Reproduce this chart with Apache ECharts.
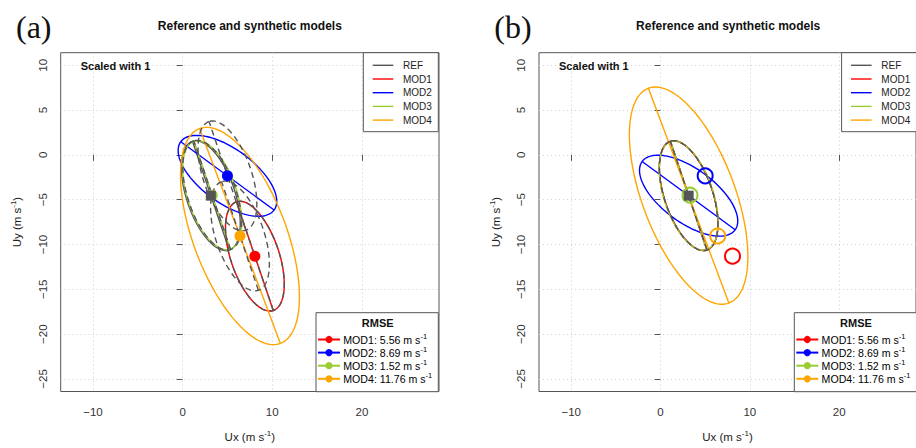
<!DOCTYPE html>
<html>
<head>
<meta charset="utf-8">
<script src="https://cdn.jsdelivr.net/npm/echarts@6/dist/echarts.min.js"></script>
<style>
  html, body { margin: 0; background: #fff; }
  #main { width: 916px; height: 448px; }
</style>
</head>
<body>
<div id="main"></div>
<script>
// wind vector models: mean vector + variance ellipse (semi-axes, angle of major axis)
const models = ['REF', 'MOD1', 'MOD2', 'MOD3', 'MOD4'];
const colors = ['#555555', '#ff0000', '#0000ff', '#9acd32', '#ffa500'];
const meanUx = [3.15, 8.06, 5.0, 3.3, 6.4];
const meanUy = [-4.55, -11.3, -2.34, -4.5, -9.05];
const semiMajor = [6.4, 6.4, 6.45, 6.35, 12.8];
const semiMinor = [2.7, 2.7, 3.0, 2.75, 5.2];
const angleDeg = [108.7, 108.7, -36.2, 108.5, -69.4];
const rmse = ['', '5.56', '8.69', '1.52', '11.76'];
const xTicks = [-10, 0, 10, 20];
const yTicks = [10, 5, 0, -5, -10, -15, -20, -25];
const xRange = [-13.6, 28.6];
const yRange = [-26.4, 11.4];
const panelLabels = ['(a)', '(b)'];

const FONT = "'Liberation Sans', Arial, Helvetica, sans-serif";
const L = [60.7, 539];
const T = 52.7, W = 378.3, H = 339;

var myChart = echarts.init(document.getElementById('main'), null, { renderer: 'svg' });

function minus(v) {
  return v < 0 ? '\u2212' + Math.abs(v) : String(v);
}

// one ellipse outline + its major axis, from a row [cx, cy, a, b, angle]
function ellipseSeries(p, rows, color, dashed) {
  return {
    type: 'custom',
    xAxisIndex: p,
    yAxisIndex: p,
    silent: true,
    data: rows,
    renderItem: function (params, api) {
      const cx = api.value(0), cy = api.value(1);
      const a = api.value(2), b = api.value(3);
      const ang = api.value(4) * Math.PI / 180;
      const ux = Math.cos(ang), uy = Math.sin(ang);
      const pts = [];
      for (let k = 0; k <= 144; k++) {
        const t = k / 144 * 2 * Math.PI;
        pts.push(api.coord([
          cx + a * Math.cos(t) * ux - b * Math.sin(t) * uy,
          cy + a * Math.cos(t) * uy + b * Math.sin(t) * ux
        ]));
      }
      const p1 = api.coord([cx - a * ux, cy - a * uy]);
      const p2 = api.coord([cx + a * ux, cy + a * uy]);
      const st = { stroke: color, lineWidth: 1.4, fill: null, lineDash: dashed ? [6, 4] : null };
      return {
        type: 'group',
        children: [
          { type: 'polyline', shape: { points: pts }, style: st },
          { type: 'line', shape: { x1: p1[0], y1: p1[1], x2: p2[0], y2: p2[1] }, style: st }
        ]
      };
    }
  };
}

function shapeRow(i, cx, cy) {
  return [cx, cy, semiMajor[i], semiMinor[i], angleDeg[i]];
}

const series = [];
// panel (a): ellipses at each model's own mean
series.push(ellipseSeries(0, [shapeRow(0, meanUx[0], meanUy[0])], colors[0], false));
for (let i = 1; i < models.length; i++) {
  series.push(ellipseSeries(0, [shapeRow(i, meanUx[i], meanUy[i])], colors[i], false));
}
series.push(ellipseSeries(0, [1, 2, 3, 4].map(i => shapeRow(0, meanUx[i], meanUy[i])), colors[0], true));
for (let i = 1; i < models.length; i++) {
  series.push({
    type: 'scatter', xAxisIndex: 0, yAxisIndex: 0, silent: true,
    symbol: 'circle', symbolSize: 11,
    itemStyle: { color: colors[i], opacity: 1 },
    data: [[meanUx[i], meanUy[i]]]
  });
}
series.push({
  type: 'scatter', xAxisIndex: 0, yAxisIndex: 0, silent: true,
  symbol: 'rect', symbolSize: 10,
  itemStyle: { color: colors[0], opacity: 1 },
  data: [[meanUx[0], meanUy[0]]]
});

// panel (b): all ellipses moved to the REF mean
for (let i = 0; i < models.length; i++) {
  series.push(ellipseSeries(1, [shapeRow(i, meanUx[0], meanUy[0])], colors[i], false));
}
series.push(ellipseSeries(1, [shapeRow(0, meanUx[0], meanUy[0])], colors[0], true));
for (let i = 1; i < models.length; i++) {
  series.push({
    type: 'scatter', xAxisIndex: 1, yAxisIndex: 1, silent: true,
    symbol: 'circle', symbolSize: 15,
    itemStyle: { color: 'rgba(0,0,0,0)', borderColor: colors[i], borderWidth: 2, opacity: 1 },
    data: [[meanUx[i], meanUy[i]]]
  });
}
series.push({
  type: 'scatter', xAxisIndex: 1, yAxisIndex: 1, silent: true,
  symbol: 'rect', symbolSize: 10,
  itemStyle: { color: colors[0], opacity: 1 },
  data: [[meanUx[0], meanUy[0]]]
});

const axisRich = {
  m: { fontSize: 11.5, fontFamily: FONT, color: '#222', lineHeight: 15 },
  s: { fontSize: 8, fontFamily: FONT, color: '#222', verticalAlign: 'top', lineHeight: 9 }
};
const legRich = {
  m: { fontSize: 10.6, fontFamily: FONT, color: '#222', lineHeight: 14 },
  s: { fontSize: 7.5, fontFamily: FONT, color: '#222', verticalAlign: 'top', lineHeight: 8 }
};

const grids = [], xAxes = [], yAxes = [], graphics = [];
for (let p = 0; p < 2; p++) {
  const x0 = L[p];
  grids.push({ left: x0, top: T, width: W, height: H, show: true, borderColor: '#555', borderWidth: 1, containLabel: false });
  xAxes.push({
    gridIndex: p, type: 'value', min: xRange[0], max: xRange[1],
    axisLine: { show: false },
    axisTick: { show: true, customValues: xTicks, length: 6, lineStyle: { color: '#555' } },
    axisLabel: { customValues: xTicks, formatter: minus, fontSize: 11.5, fontFamily: FONT, color: '#333', margin: 14 },
    splitLine: { show: true, lineStyle: { color: '#d0d0d0', type: [1, 3] } },
    name: '{m|Ux (m s}{s|-1}{m|)}', nameLocation: 'middle', nameGap: 38,
    nameTextStyle: { rich: axisRich }
  });
  yAxes.push({
    gridIndex: p, type: 'value', min: yRange[0], max: yRange[1],
    axisLine: { show: false },
    axisTick: { show: true, customValues: yTicks, length: 6, lineStyle: { color: '#555' } },
    axisLabel: { customValues: yTicks, formatter: minus, rotate: 90, fontSize: 11.5, fontFamily: FONT, color: '#333', margin: 12 },
    splitLine: { show: true, lineStyle: { color: '#d0d0d0', type: [1, 3] } },
    name: '{m|Uy (m s}{s|-1}{m|)}', nameLocation: 'middle', nameGap: 36,
    nameTextStyle: { rich: axisRich }
  });

  graphics.push({
    type: 'text', x: x0 - 44.7, y: 27, z: 100,
    style: { text: panelLabels[p], font: "32px 'Liberation Serif', 'Times New Roman', serif", fill: '#111', verticalAlign: 'middle' }
  });
  graphics.push({
    type: 'text', x: x0 + W / 2, y: 25.5, z: 100,
    style: { text: 'Reference and synthetic models', font: 'bold 12px ' + FONT, fill: '#111', align: 'center', verticalAlign: 'middle' }
  });
  graphics.push({
    type: 'text', x: x0 + 20, y: 66, z: 100,
    style: { text: 'Scaled with 1', font: 'bold 11px ' + FONT, fill: '#111', verticalAlign: 'middle' }
  });

  // model legend (top right)
  graphics.push({
    type: 'rect', z: 100, shape: { x: x0 + 302.6, y: T, width: 75, height: 79 },
    style: { fill: '#fff', stroke: '#555', lineWidth: 1 }
  });
  for (let i = 0; i < models.length; i++) {
    const yy = 65.3 + i * 13.7;
    graphics.push({
      type: 'line', z: 101, shape: { x1: x0 + 312, y1: yy, x2: x0 + 332.6, y2: yy },
      style: { stroke: colors[i], lineWidth: 1.4 }
    });
    graphics.push({
      type: 'text', x: x0 + 342.3, y: yy, z: 101,
      style: { text: models[i], font: '10px ' + FONT, fill: '#222', verticalAlign: 'middle' }
    });
  }

  // RMSE legend (bottom right)
  graphics.push({
    type: 'rect', z: 100, shape: { x: x0 + 255.3, y: 312.7, width: 122.3, height: 79 },
    style: { fill: '#fff', stroke: '#555', lineWidth: 1 }
  });
  graphics.push({
    type: 'text', x: x0 + 317, y: 323, z: 101,
    style: { text: 'RMSE', font: 'bold 11px ' + FONT, fill: '#111', align: 'center', verticalAlign: 'middle' }
  });
  for (let i = 1; i < models.length; i++) {
    const yy = 339.5 + (i - 1) * 13.1;
    graphics.push({
      type: 'line', z: 101, shape: { x1: x0 + 257.3, y1: yy, x2: x0 + 279.3, y2: yy },
      style: { stroke: colors[i], lineWidth: 2 }
    });
    graphics.push({
      type: 'circle', z: 102, shape: { cx: x0 + 268.3, cy: yy, r: 3.6 },
      style: { fill: colors[i] }
    });
    graphics.push({
      type: 'text', x: x0 + 282.6, y: yy, z: 101,
      style: {
        text: '{m|' + models[i] + ': ' + rmse[i] + ' m s}{s|-1}',
        verticalAlign: 'middle',
        rich: legRich
      }
    });
  }
}

const option = {
  backgroundColor: '#fff',
  animation: false,
  grid: grids,
  xAxis: xAxes,
  yAxis: yAxes,
  series: series,
  graphic: { elements: graphics }
};

if (option && typeof option === 'object') {
  myChart.setOption(option);
}
</script>
</body>
</html>
